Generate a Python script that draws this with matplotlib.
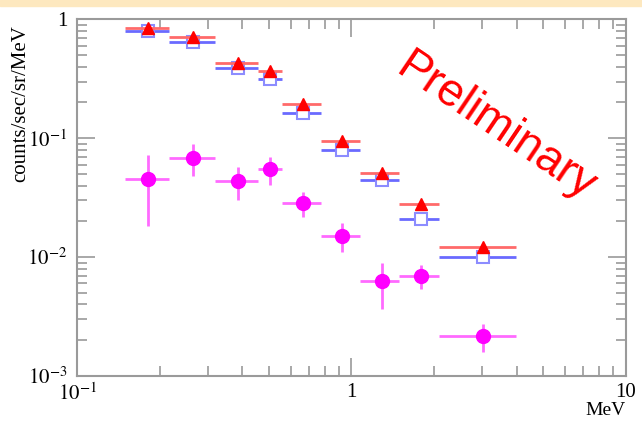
import numpy as np
import matplotlib.pyplot as plt

# energy bins (MeV)
e_center = [0.182, 0.265, 0.386, 0.505, 0.664, 0.926, 1.288, 1.787, 3.02]
e_low = [0.150, 0.216, 0.318, 0.457, 0.557, 0.774, 1.074, 1.493, 2.08]
e_high = [0.216, 0.318, 0.457, 0.557, 0.774, 1.074, 1.493, 2.08, 3.96]

# spectra (counts/sec/sr/MeV)
red_flux = [0.85, 0.71, 0.428, 0.368, 0.194, 0.0949, 0.0507, 0.028, 0.0122]
blue_flux = [0.805, 0.65, 0.388, 0.316, 0.164, 0.080, 0.0443, 0.0208, 0.00996]
mag_flux = [0.0454, 0.0679, 0.0435, 0.0548, 0.0287, 0.01514, 0.00629, 0.00697, 0.00217]
mag_up = [0.0723, 0.089, 0.057, 0.0692, 0.0355, 0.01925, 0.00887, 0.00858, 0.00273]
mag_lo = [0.01827, 0.0482, 0.0303, 0.0404, 0.0216, 0.01097, 0.00366, 0.00536, 0.0016]

plt.rcParams['mathtext.fontset'] = 'stix'
plt.rcParams['font.family'] = 'Liberation Serif'

x = np.array(e_center)
xerr = [x - np.array(e_low), np.array(e_high) - x]

fig = plt.figure(figsize=(6.42, 4.21), dpi=100)
# yellow strip at top
fig.patches.append(plt.Rectangle((0, 0.985), 1, 0.015, transform=fig.transFigure,
                                 color='#fde8bf', zorder=0))
ax = fig.add_axes([0.12, 0.107, 0.855, 0.847])

ax.errorbar(x, blue_flux, xerr=xerr, fmt='s', color='#6a6aff', ecolor='#6a6aff',
            mfc='white', mec='#8c8cff', ms=9, mew=1.5, elinewidth=2, capsize=0, zorder=3)
ax.errorbar(x, red_flux, xerr=xerr, fmt='^', color='#ff5a5a', ecolor='#ff6a6a',
            mfc='red', mec='red', ms=9, elinewidth=2, capsize=0, zorder=4)
m = np.array(mag_flux)
yerr = [m - np.array(mag_lo), np.array(mag_up) - m]
ax.errorbar(x, mag_flux, xerr=xerr, yerr=yerr, fmt='o', color='magenta',
            ecolor='#ff6aff', ms=10, elinewidth=2, capsize=0, zorder=5)

ax.set_xscale('log')
ax.set_yscale('log')
ax.set_xlim(0.1, 10)
ax.set_ylim(1e-3, 1)

ax.set_xticks([0.1, 1, 10])
ax.set_xticklabels([r'$10^{-1}$', '1', '10'])
ax.set_yticks([1e-3, 1e-2, 1e-1, 1])
ax.set_yticklabels([r'$10^{-3}$', r'$10^{-2}$', r'$10^{-1}$', '1'])

gray = '#9a9a9a'
for s in ax.spines.values():
    s.set_color(gray)
    s.set_linewidth(1.5)
ax.tick_params(which='both', direction='in', top=True, right=True, color=gray,
               labelsize=15, width=1.2)
ax.tick_params(which='major', length=13, pad=5)
ax.tick_params(which='minor', length=7)
ax.tick_params(axis='y', which='major', pad=7)

ax.set_ylabel('counts/sec/sr/MeV', fontsize=15, loc='top')
ax.yaxis.set_label_coords(-0.086, 0.985)
ax.set_xlabel('MeV', fontsize=14, loc='right', labelpad=-2)

ax.text(0.762, 0.698, 'Preliminary', transform=ax.transAxes, color='red',
        fontsize=33, rotation=-34, ha='center', va='center',
        family='Liberation Sans', rotation_mode='anchor')

fig.savefig('out.png', dpi=100)
